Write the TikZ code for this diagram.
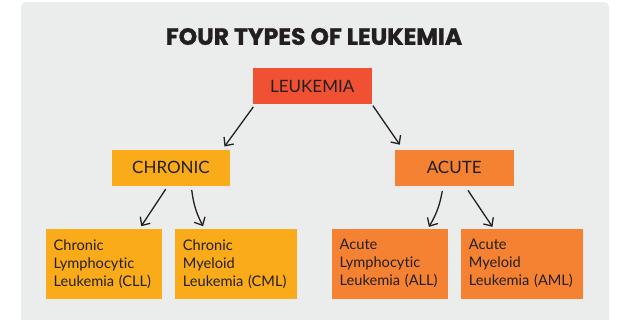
\documentclass[tikz,border=0pt]{standalone}
\usepackage{fontspec}
\setmainfont{Lato}[Ligatures=NoCommon]
\newfontfamily\titlefont{Poppins}[BoldFeatures={FakeBold=1.3}]
\usetikzlibrary{arrows.meta,positioning}
\definecolor{panelbg}{HTML}{EBECEC}
\definecolor{redbox}{HTML}{F15133}
\definecolor{yelbox}{HTML}{F9AB1A}
\definecolor{orabox}{HTML}{F58233}
\definecolor{ink}{HTML}{231F20}
\begin{document}
\begin{tikzpicture}[x=1pt,y=-1pt,
  topbox/.style={draw=none, text=ink, font=\fontsize{17}{20}\selectfont, inner sep=0pt, minimum height=36pt},
  leafbox/.style={draw=none, text=ink, font=\fontsize{14.6}{18}\selectfont, inner xsep=8pt, inner ysep=0pt, align=left, minimum height=70pt},
  arr/.style={draw=ink, line width=1.3pt, -{Straight Barb[length=6.5pt,width=12pt,line width=1.3pt]}}]
\useasboundingbox (0,0) rectangle (636,322);
\fill[panelbg] (21,320) [rounded corners=5pt]-- (21,2) -- (609,2) [sharp corners]-- (609,320) -- cycle;

\node[text=ink, font=\titlefont\bfseries\fontsize{23.5}{26}\selectfont] (title) at (314,36.5) {FOUR TYPES OF LEUKEMIA};

\node[topbox, fill=redbox, minimum width=119pt] (lk) at (312.2,86.3) {LEUKEMIA};
\node[topbox, fill=yelbox, minimum width=118.6pt] (chr) at (171,167.7) {CHRONIC};
\node[topbox, fill=orabox, minimum width=119pt] (acu) at (454.2,167.9) {ACUTE};

\node[leafbox, fill=yelbox, text width=100.6pt] (cll) at (104,263.9) {Chronic\\Lymphocytic\\Leukemia (CLL)};
\node[leafbox, fill=yelbox, text width=105.7pt] (cml) at (235.8,263.9) {Chronic\\Myeloid\\Leukemia (CML)};
\node[leafbox, fill=orabox, text width=100.6pt] (all) at (390,263.7) {Acute\\Lymphocytic\\Leukemia (ALL)};
\node[leafbox, fill=orabox, text width=105.7pt] (aml) at (521.8,263.7) {Acute\\Myeloid\\Leukemia (AML)};

\draw[arr] ([shift={(0.8,2.4)}]lk.south west) -- ([shift={(-6,-3)}]chr.north east);
\draw[arr] ([shift={(1,1.2)}]lk.south east) -- ([shift={(5.3,-5)}]acu.north west);
\draw[arr] ([shift={(-5.3,3.3)}]chr.south) -- ([shift={(-21.3,-2.5)}]cll.north east);
\draw[arr] ([shift={(20.7,4)}]chr.south) to[bend right=10] ([shift={(28.3,-2.5)}]cml.north west);
\draw[arr] ([shift={(-11.9,5)}]acu.south) to[bend left=10] ([shift={(-19.6,-1.6)}]all.north east);
\draw[arr] ([shift={(13.8,4.3)}]acu.south) -- ([shift={(31.7,-1.7)}]aml.north west);
\end{tikzpicture}
\end{document}
